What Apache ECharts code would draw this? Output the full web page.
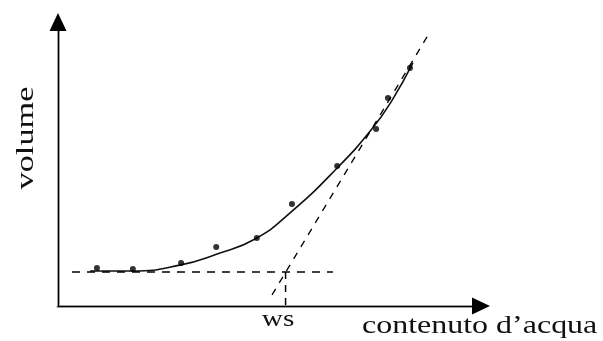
<!DOCTYPE html>
<html>
<head>
<meta charset="utf-8">
<script src="https://cdn.jsdelivr.net/npm/echarts@6/dist/echarts.min.js"></script>
<style>html,body{margin:0;padding:0;background:#fff}#c{width:603px;height:341px}</style>
</head>
<body>
<div id="c"></div>
<script>
// measured points (water content, volume), arbitrary units 0-100
var pointsX = [9.2, 17.7, 29.1, 37.4, 47.0, 55.3, 66.0, 75.2, 78.0, 83.2];
var pointsY = [13.4, 13.0, 15.1, 20.8, 23.9, 35.9, 49.3, 62.3, 73.2, 83.8];
// fitted curve
var fitX = [7.6, 17.7, 28.8, 37.6, 46.6, 54.8, 66.0, 74.2, 79.0, 83.9];
var fitY = [12.3, 12.3, 14.4, 18.3, 23.6, 32.7, 48.6, 62.3, 72.5, 85.6];
// construction lines
var levelX = [3.3, 65.0], levelY = [12.0, 12.0];
var wsX = [53.8, 53.8], wsY = [12.0, 0];
var tangentX = [50.6, 87.5], tangentY = [3.9, 95.4];
var xName = 'contenuto d’acqua', yName = 'volume', wsName = 'ws';

function zip(a, b) { return a.map(function (v, i) { return [v, b[i]]; }); }

var chart = echarts.init(document.getElementById('c'), null, {renderer: 'canvas'});
var serif = '"Liberation Serif", "Times New Roman", serif';
function axisBase(extra) {
  var o = {type: 'value', min: 0, max: 100, axisTick: {show: false}, axisLabel: {show: false}, splitLine: {show: false}};
  for (var k in extra) o[k] = extra[k];
  return o;
}
chart.setOption({
  animation: false,
  backgroundColor: '#fff',
  grid: {left: 58, right: 122, top: 22, bottom: 35},
  xAxis: [
    axisBase({position: 'bottom', z: 3, axisLine: {onZero: false, symbol: ['none', 'triangle'], symbolSize: [17, 18], lineStyle: {color: '#000', width: 1}}}),
    axisBase({position: 'bottom', z: 1, axisLine: {onZero: false, lineStyle: {color: '#9a9a9a', width: 3}}})
  ],
  yAxis: [
    axisBase({position: 'left', z: 3, axisLine: {onZero: false, symbol: ['none', 'triangle'], symbolSize: [17, 18], lineStyle: {color: '#000', width: 1}}}),
    axisBase({position: 'left', z: 1, axisLine: {onZero: false, lineStyle: {color: '#9a9a9a', width: 3}}})
  ],
  series: [
    {type: 'line', data: zip(fitX, fitY), smooth: 0.5, showSymbol: false, lineStyle: {color: '#111', width: 1.6}, z: 4},
    {type: 'scatter', data: zip(pointsX, pointsY), symbol: 'circle', symbolSize: 6, itemStyle: {color: '#000'}, z: 5},
    {type: 'line', data: zip(levelX, levelY), showSymbol: false, lineStyle: {color: '#000', width: 1.5, type: [8, 7]}, z: 4},
    {type: 'line', data: zip(wsX, wsY), showSymbol: false, lineStyle: {color: '#000', width: 1.5, type: [7, 6]}, z: 4},
    {type: 'line', data: zip(tangentX, tangentY), showSymbol: false, lineStyle: {color: '#000', width: 1.3, type: [7, 7]}, z: 4}
  ],
  graphic: [
    {type: 'text', x: 362, y: 326, scaleX: 1.23, style: {text: xName, font: '26px ' + serif, fill: '#111', textAlign: 'left', textVerticalAlign: 'middle'}},
    {type: 'text', x: 278, y: 320, scaleX: 1.22, style: {text: wsName, font: '24px ' + serif, fill: '#111', textAlign: 'center', textVerticalAlign: 'middle'}},
    {type: 'text', x: 26, y: 138, rotation: Math.PI / 2, scaleX: 1.32, style: {text: yName, font: '26px ' + serif, fill: '#111', textAlign: 'center', textVerticalAlign: 'middle'}}
  ]
});
</script>
</body>
</html>
